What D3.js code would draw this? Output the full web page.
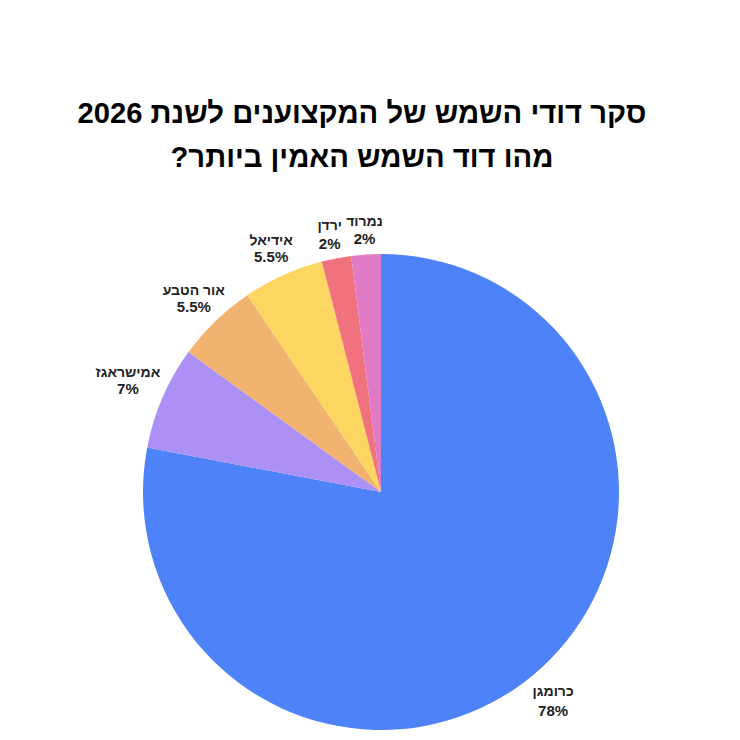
<!DOCTYPE html>
<html lang="he">
<head>
<meta charset="utf-8">
<script src="https://cdn.jsdelivr.net/npm/d3@7"></script>
<style>
  html, body { margin: 0; padding: 0; background: #fff; }
  text { font-family: "Liberation Sans", Arial, sans-serif; direction: rtl; }
</style>
</head>
<body>
<svg id="chart"></svg>
<script>
const titleLines = ['סקר דודי השמש של המקצוענים לשנת 2026', 'מהו דוד השמש האמין ביותר?'];
const brands = ['כרומגן', 'אמישראגז', 'אור הטבע', 'אידיאל', 'ירדן', 'נמרוד'];
const shares = [78, 7, 5.5, 5.5, 2, 2];
const colors = ['#4d82f8', '#ac90f6', '#f3b370', '#fcd660', '#f1727f', '#e07bc5'];

const width = 740;
const height = 740;
const cx = 381;
const cy = 492;
const radius = 238;

// the small slices need their labels pushed apart by hand
const labelRadius = [270, 279, 269, 267, 263, 263];
const labelShift = [0, 3, 0, 0, -2, 0];
const labelGap = [20, 17, 17, 17, 19, 18];

const svg = d3.select('#chart').attr('width', width).attr('height', height);

svg.selectAll('.title')
  .data(titleLines)
  .enter()
  .append('text')
  .attr('class', 'title')
  .attr('x', 362)
  .attr('y', (d, i) => 123 + i * 44)
  .attr('text-anchor', 'middle')
  .style('font-size', '29.2px')
  .style('font-weight', 700)
  .style('fill', '#000')
  .text((d) => d);

const pie = d3.pie().sort(null).value((d) => d.share);
const arcs = pie(brands.map((name, i) => ({ name, share: shares[i], color: colors[i] })));
const arc = d3.arc().innerRadius(0).outerRadius(radius);

const chartArea = svg.append('g').attr('transform', `translate(${cx},${cy})`);

chartArea.selectAll('path')
  .data(arcs)
  .enter()
  .append('path')
  .attr('d', arc)
  .attr('fill', (d) => d.data.color);

const labels = chartArea.selectAll('.label')
  .data(arcs)
  .enter()
  .append('g')
  .attr('class', 'label')
  .attr('transform', (d, i) => {
    const [x, y] = d3.arc().innerRadius(labelRadius[i]).outerRadius(labelRadius[i]).centroid(d);
    return `translate(${x + labelShift[i]},${y})`;
  });

labels.append('text')
  .attr('text-anchor', 'middle')
  .attr('y', -4)
  .style('font-size', '14px')
  .style('font-weight', 700)
  .style('fill', '#222')
  .text((d) => d.data.name);

labels.append('text')
  .attr('text-anchor', 'middle')
  .attr('y', (d, i) => -4 + labelGap[i])
  .style('font-size', '15px')
  .style('font-weight', 700)
  .style('fill', '#222')
  .style('direction', 'ltr')
  .text((d) => `${d.data.share}%`);
</script>
</body>
</html>
